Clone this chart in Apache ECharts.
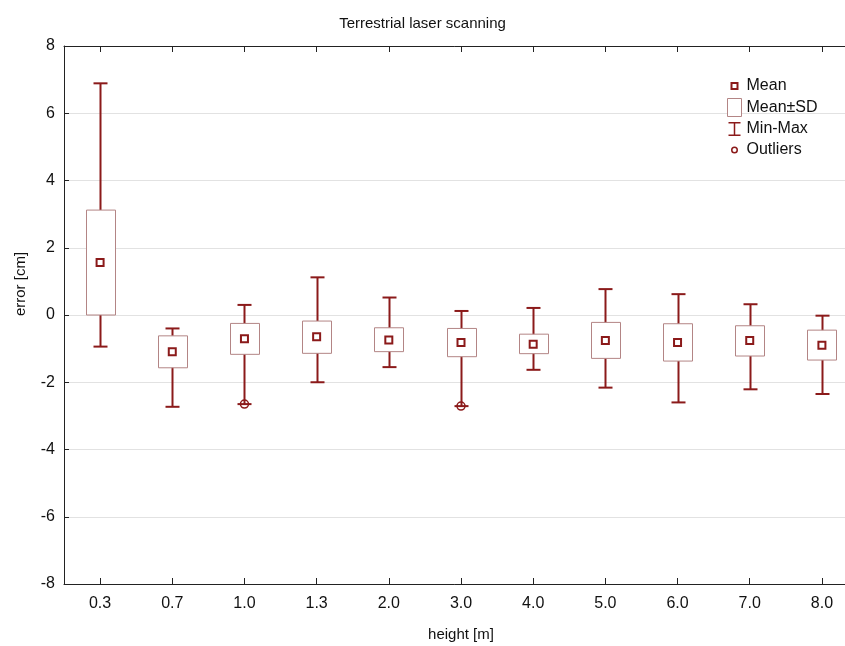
<!DOCTYPE html>
<html>
<head>
<meta charset="utf-8">
<script src="https://cdn.jsdelivr.net/npm/echarts@6/dist/echarts.min.js"></script>
<style>
  html, body { margin: 0; padding: 0; background: #fff; }
  #chart { width: 845px; height: 646px; }
</style>
</head>
<body>
<div id="chart"></div>
<script>
  // heights (categories)
  var categories = ['0.3', '0.7', '1.0', '1.3', '2.0', '3.0', '4.0', '5.0', '6.0', '7.0', '8.0'];
  // values, cm
  var meanValues = [1.56, -1.09, -0.71, -0.65, -0.74, -0.82, -0.87, -0.76, -0.82, -0.76, -0.90];
  var sdLow = [0.0, -1.57, -1.17, -1.14, -1.09, -1.24, -1.15, -1.29, -1.37, -1.22, -1.34];
  var sdHigh = [3.12, -0.62, -0.25, -0.18, -0.38, -0.40, -0.57, -0.22, -0.26, -0.32, -0.45];
  var minValues = [-0.94, -2.73, -2.65, -2.00, -1.55, -2.71, -1.63, -2.16, -2.60, -2.21, -2.35];
  var maxValues = [6.89, -0.40, 0.30, 1.12, 0.52, 0.12, 0.21, 0.77, 0.62, 0.32, -0.02];
  var outliers = [['1.0', -2.65], ['3.0', -2.71]];
  var yTicks = [-8, -6, -4, -2, 0, 2, 4, 6, 8];

  var red = '#8b1a1a';
  var boxEdge = '#b38585';
  var font = 'Liberation Sans, Arial, sans-serif';

  var chart = echarts.init(document.getElementById('chart'));

  var whiskerData = categories.map(function (c, i) { return [i, minValues[i], maxValues[i]]; });
  var boxData = categories.map(function (c, i) { return [i, sdLow[i], sdHigh[i]]; });
  var meanData = categories.map(function (c, i) { return [c, meanValues[i]]; });

  // legend icons (corner dots keep every icon in the same 14x18 frame)
  var frame = 'M0,0h0.01v0.01h-0.01z M14,18h-0.01v-0.01h0.01z ';
  var iconMean = 'path://' + frame + 'M3,5h8v8h-8z M5,7v4h4v-4z';
  var iconMinMax = 'path://' + frame + 'M1,2h12v1.5h-5.25v11h5.25v1.5h-12v-1.5h5.25v-11h-5.25z';
  var iconOutlier = 'path://' + frame + 'M3.5,9a3.5,3.5 0 1,0 7,0a3.5,3.5 0 1,0 -7,0z M5,9a2,2 0 1,1 4,0a2,2 0 1,1 -4,0z';

  var tickStyle = { show: true, inside: true, alignWithLabel: true, length: 6, lineStyle: { color: '#222', width: 1 } };

  chart.setOption({
    animation: false,
    backgroundColor: '#fff',
    title: {
      text: 'Terrestrial laser scanning',
      left: 'center',
      top: 11,
      textStyle: { fontFamily: font, fontSize: 15, fontWeight: 'normal', color: '#111' }
    },
    legend: {
      orient: 'vertical',
      left: 722,
      top: 72,
      itemWidth: 14,
      itemHeight: 18,
      itemGap: 3,
      textStyle: { fontFamily: font, fontSize: 16, color: '#111' },
      data: [
        { name: 'Mean', icon: iconMean, itemStyle: { color: red, borderWidth: 0 } },
        { name: 'Mean±SD', icon: 'rect', itemStyle: { color: '#fff', borderColor: boxEdge, borderWidth: 1 } },
        { name: 'Min-Max', icon: iconMinMax, itemStyle: { color: red, borderWidth: 0 } },
        { name: 'Outliers', icon: iconOutlier, itemStyle: { color: red, borderWidth: 0 } }
      ]
    },
    // the plot runs past the right edge of the picture
    grid: { left: 64, top: 46, height: 538, width: 794, outerBoundsMode: 'none', containLabel: false },
    xAxis: [{
      type: 'category',
      data: categories,
      name: 'height [m]',
      nameLocation: 'middle',
      nameGap: 43,
      nameTextStyle: { fontFamily: font, fontSize: 15, color: '#111' },
      axisLine: { onZero: false, lineStyle: { color: '#222' } },
      axisTick: tickStyle,
      axisLabel: { fontFamily: font, fontSize: 16, color: '#111', margin: 12 },
      splitLine: { show: false }
    }, {
      type: 'category',
      data: categories,
      position: 'top',
      axisLine: { onZero: false, lineStyle: { color: '#222' } },
      axisTick: tickStyle,
      axisLabel: { show: false },
      splitLine: { show: false }
    }],
    yAxis: {
      type: 'value',
      min: yTicks[0],
      max: yTicks[yTicks.length - 1],
      interval: 2,
      name: 'error [cm]',
      nameLocation: 'middle',
      nameGap: 36,
      nameTextStyle: { fontFamily: font, fontSize: 15, color: '#111', padding: [0, 0, 0, 62] },
      axisLine: { show: true, onZero: false, lineStyle: { color: '#222' } },
      axisTick: { show: true, inside: true, length: 5, lineStyle: { color: '#222', width: 1 } },
      axisLabel: { fontFamily: font, fontSize: 16, color: '#111', margin: 9 },
      splitLine: { lineStyle: { color: '#e2e2e2' } }
    },
    series: [
      {
        name: 'Min-Max',
        type: 'custom',
        data: whiskerData,
        z: 2,
        renderItem: function (params, api) {
          var top = api.coord([api.value(0), api.value(2)]);
          var bot = api.coord([api.value(0), api.value(1)]);
          var x = Math.round(top[0]) + 0.5;
          var half = 7;
          var st = { stroke: red, lineWidth: 2 };
          return {
            type: 'group',
            children: [
              { type: 'line', shape: { x1: x, y1: top[1], x2: x, y2: bot[1] }, style: st },
              { type: 'line', shape: { x1: x - half, y1: top[1], x2: x + half, y2: top[1] }, style: st },
              { type: 'line', shape: { x1: x - half, y1: bot[1], x2: x + half, y2: bot[1] }, style: st }
            ]
          };
        }
      },
      {
        name: 'Mean±SD',
        type: 'custom',
        data: boxData,
        z: 3,
        renderItem: function (params, api) {
          var top = api.coord([api.value(0), api.value(2)]);
          var bot = api.coord([api.value(0), api.value(1)]);
          var w = 29;
          var x = Math.round(top[0] - w / 2) + 0.5;
          return {
            type: 'rect',
            shape: { x: x, y: top[1], width: w, height: bot[1] - top[1] },
            style: { fill: '#fff', stroke: boxEdge, lineWidth: 1 }
          };
        }
      },
      {
        name: 'Mean',
        type: 'scatter',
        data: meanData,
        z: 4,
        symbol: 'rect',
        symbolSize: 7,
        itemStyle: { color: '#fff', borderColor: red, borderWidth: 2, opacity: 1 }
      },
      {
        name: 'Outliers',
        type: 'scatter',
        data: outliers,
        z: 5,
        symbol: 'circle',
        symbolSize: 8,
        itemStyle: { color: 'rgba(255,255,255,0)', borderColor: red, borderWidth: 1.5, opacity: 1 }
      }
    ]
  });
</script>
</body>
</html>
